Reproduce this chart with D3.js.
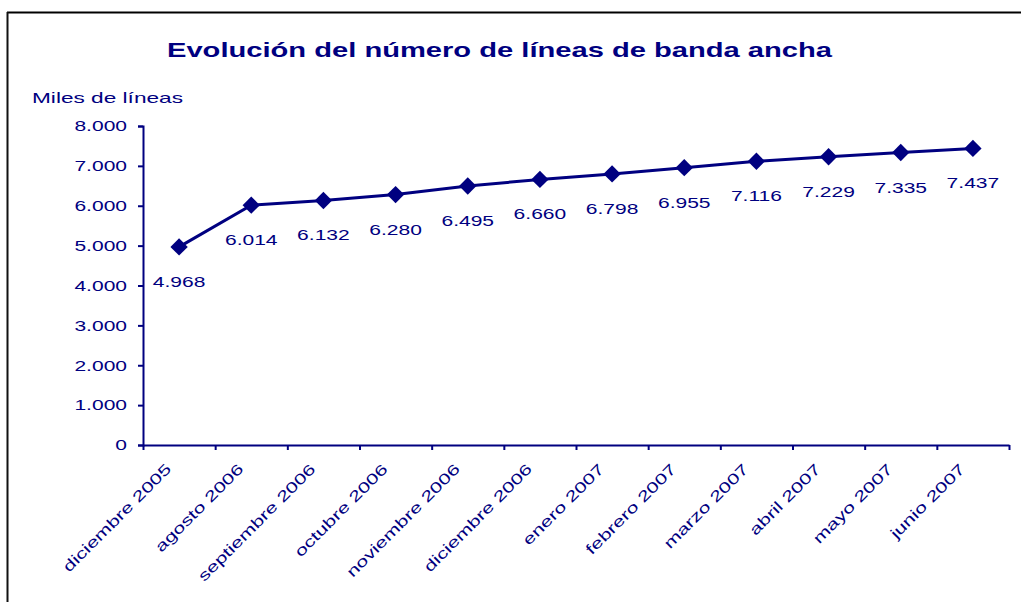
<!DOCTYPE html>
<html>
<head>
<meta charset="utf-8">
<script src="https://cdn.jsdelivr.net/npm/d3@7"></script>
<style>
  body { margin: 0; background: #fff; }
  text { font-family: "Liberation Sans", Arial, sans-serif; fill: #000080; }
</style>
</head>
<body>
<svg id="chart" width="1021" height="602"></svg>
<script>
// Chart data
var categories = ["diciembre 2005", "agosto 2006", "septiembre 2006", "octubre 2006",
    "noviembre 2006", "diciembre 2006", "enero 2007", "febrero 2007",
    "marzo 2007", "abril 2007", "mayo 2007", "junio 2007"];
var lineas = [4968, 6014, 6132, 6280, 6495, 6660, 6798, 6955, 7116, 7229, 7335, 7437];
var yTicks = [0, 1000, 2000, 3000, 4000, 5000, 6000, 7000, 8000];

var navy = "#000080";
var svg = d3.select("#chart");

// Stretch text horizontally, the original chart was scaled wide
function widen(sel, k)
{
    sel.each(function() {
        var w = this.getComputedTextLength();
        d3.select(this).attr("textLength", w * k).attr("lengthAdjust", "spacingAndGlyphs");
    });
}

// Outer frame (top and left edges only visible)
svg.append("line").attr("x1", 7).attr("y1", 12.5).attr("x2", 1021).attr("y2", 12.5)
    .attr("stroke", "#000").attr("stroke-width", 2);
svg.append("line").attr("x1", 7.5).attr("y1", 12).attr("x2", 7.5).attr("y2", 602)
    .attr("stroke", "#111").attr("stroke-width", 2);

var x = d3.scaleBand().domain(categories).range([143, 1009]).padding(0);
var xEdge = d3.scaleLinear().domain([0, categories.length]).range([143, 1009]);
var y = d3.scaleLinear().domain([0, 8000]).range([445, 126]);

// Title
svg.append("text")
    .attr("x", 167).attr("y", 57)
    .attr("font-size", 21).attr("font-weight", "bold")
    .attr("textLength", 665).attr("lengthAdjust", "spacingAndGlyphs")
    .text("Evolución del número de líneas de banda ancha");

// Y axis caption
svg.append("text")
    .attr("x", 32).attr("y", 103)
    .attr("font-size", 15)
    .attr("textLength", 151).attr("lengthAdjust", "spacingAndGlyphs")
    .text("Miles de líneas");

// Y axis
var yAxis = svg.append("g")
    .attr("transform", "translate(143,0)")
    .call(d3.axisLeft(y).tickValues(yTicks).tickSize(5).tickPadding(11)
        .tickFormat(function(d) { return d3.format(",")(d).replace(/,/g, "."); }));
yAxis.select(".domain").attr("stroke", navy).attr("stroke-width", 2);
yAxis.selectAll(".tick line").attr("stroke", navy).attr("stroke-width", 2);
yAxis.selectAll(".tick text").attr("font-size", 15).attr("fill", navy)
    .attr("font-family", null);
widen(yAxis.selectAll(".tick text"), 1.4);

// X axis (ticks between categories)
var xAxis = svg.append("g")
    .attr("transform", "translate(0,445)")
    .call(d3.axisBottom(xEdge).tickValues(d3.range(categories.length + 1))
        .tickSize(5).tickSizeOuter(0).tickFormat(""));
xAxis.select(".domain").attr("stroke", navy).attr("stroke-width", 2);
xAxis.selectAll(".tick line").attr("stroke", navy).attr("stroke-width", 2);

// Category labels, rotated
var catLabels = svg.append("g").selectAll("text")
    .data(categories)
    .enter().append("text")
    .attr("font-size", 15)
    .attr("text-anchor", "end")
    .attr("transform", function(d) {
        return "translate(" + (x(d) + x.bandwidth() / 2 - 7) + ",470) rotate(-45)";
    })
    .text(function(d) { return d; });
widen(catLabels, 1.42);

// Line
var line = d3.line()
    .x(function(d, i) { return x(categories[i]) + x.bandwidth() / 2; })
    .y(function(d) { return y(d); });

svg.append("path")
    .datum(lineas)
    .attr("d", line)
    .attr("fill", "none")
    .attr("stroke", navy)
    .attr("stroke-width", 3);

// Diamond markers
svg.append("g").selectAll("path")
    .data(lineas)
    .enter().append("path")
    .attr("d", d3.symbol().type(d3.symbolSquare).size(150))
    .attr("fill", navy)
    .attr("transform", function(d, i) {
        return "translate(" + (x(categories[i]) + x.bandwidth() / 2) + "," + y(d) + ") rotate(45)";
    });

// Data labels below points
var valLabels = svg.append("g").selectAll("text")
    .data(lineas)
    .enter().append("text")
    .attr("font-size", 15)
    .attr("text-anchor", "middle")
    .attr("x", function(d, i) { return x(categories[i]) + x.bandwidth() / 2; })
    .attr("y", function(d) { return y(d) + 40; })
    .text(function(d) { return d3.format(",")(d).replace(/,/g, "."); });
widen(valLabels, 1.4);
</script>
</body>
</html>
